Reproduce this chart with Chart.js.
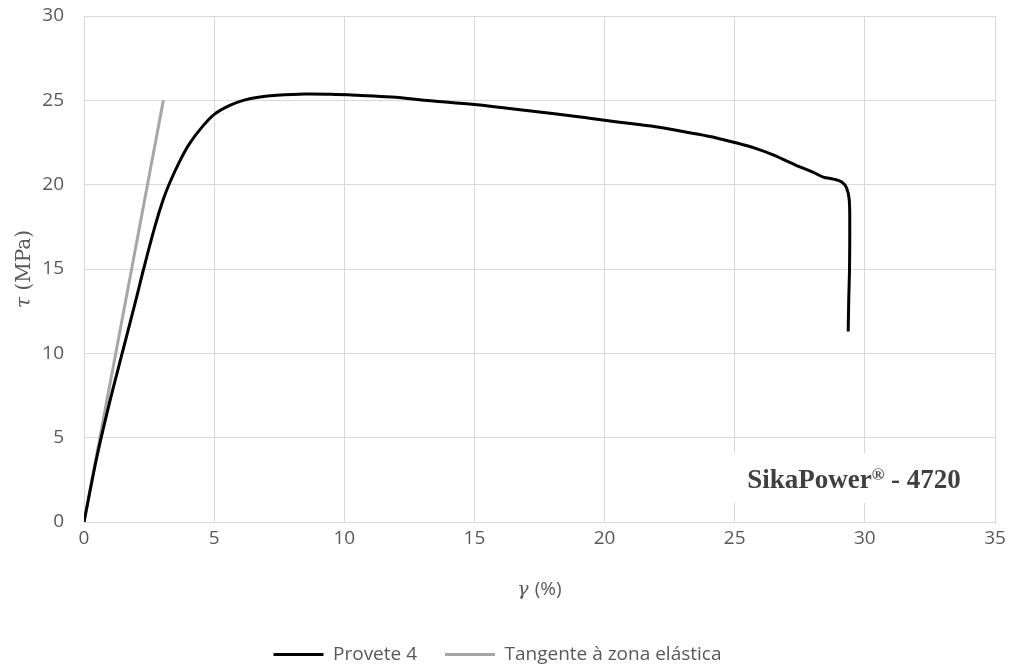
<!DOCTYPE html>
<html>
<head>
<meta charset="utf-8">
<script src="https://cdn.jsdelivr.net/npm/chart.js@4/dist/chart.umd.min.js"></script>
<style>
  html, body { margin: 0; padding: 0; background: #fff; }
  #wrap { width: 1012px; height: 671px; }
</style>
</head>
<body>
<div id="wrap"><canvas id="shearChart"></canvas></div>
<script>
// Shear test, specimen 4: strain gamma (%) vs shear stress tau (MPa)
var strainProvete = [0, 0.5, 1.0, 1.5, 2.0, 2.29, 2.72, 3.04, 3.29, 3.68, 4.06, 4.58, 5.03,
  5.6, 6.12, 6.76, 7.4, 8.5, 9.5, 10.5, 11.8, 13.3, 15.0, 17.0, 19.15, 20.0, 21.0, 22.1, 23.55,
  24.3, 25.0, 25.8, 26.5, 27.4, 28.0, 28.4, 28.8, 29.1, 29.3, 29.4, 29.42, 29.41, 29.38, 29.36];
var stressProvete = [0, 3.9, 7.2, 10.2, 13.2, 15.0, 17.5, 19.1, 20.1, 21.4, 22.45, 23.5, 24.2,
  24.7, 25.0, 25.2, 25.3, 25.38, 25.36, 25.3, 25.2, 24.98, 24.75, 24.4, 24.0, 23.82, 23.62, 23.4, 23.0,
  22.77, 22.5, 22.15, 21.75, 21.12, 20.75, 20.45, 20.33, 20.17, 19.8, 19.1, 17.5, 15.0, 13.1, 11.3];

// tangent to the elastic zone
var strainTangent = [0, 3.05];
var stressTangent = [0, 25];

var seriesNames = ['Provete 4', 'Tangente à zona elástica'];
var seriesColors = ['#000000', '#a6a6a6'];

var xMax = 35, yMax = 30, tickStep = 5;

function toPoints(xs, ys) {
  return xs.map(function (x, i) { return { x: x, y: ys[i] }; });
}

var tickColor = '#595959';
var gridColor = '#d9d9d9';

// axis titles and the material label are drawn by hand (mixed fonts)
var extrasPlugin = {
  id: 'extras',
  beforeDatasetsDraw: function (chart) {
    var ctx = chart.ctx, a = chart.chartArea;
    ctx.save();
    ctx.fillStyle = '#ffffff';
    ctx.fillRect(a.right - 270, a.bottom - 69, 260, 50);
    ctx.restore();
  },
  afterDraw: function (chart) {
    var ctx = chart.ctx, a = chart.chartArea;
    var cx = (a.left + a.right) / 2, cy = (a.top + a.bottom) / 2;
    ctx.save();
    ctx.fillStyle = tickColor;
    ctx.textBaseline = 'middle';
    ctx.textAlign = 'left';

    // y title: tau (MPa)
    ctx.save();
    ctx.translate(25, cy);
    ctx.rotate(-Math.PI / 2);
    var t1 = 'τ ', t2 = '(MPa)';
    ctx.font = 'italic 20px "DejaVu Serif"';
    var w1 = ctx.measureText(t1).width;
    ctx.font = '20px "DejaVu Serif"';
    var w2 = ctx.measureText(t2).width;
    var x0 = -(w1 + w2) / 2;
    ctx.font = 'italic 20px "DejaVu Serif"';
    ctx.fillText(t1, x0, 0);
    ctx.font = '20px "DejaVu Serif"';
    ctx.fillText(t2, x0 + w1, 0);
    ctx.restore();

    // x title: gamma (%)
    var g1 = 'γ ', g2 = '(%)';
    ctx.font = 'italic 19px "DejaVu Serif"';
    var gw1 = ctx.measureText(g1).width;
    ctx.font = '19px "Open Sans"';
    var gw2 = ctx.measureText(g2).width;
    var gx = cx - (gw1 + gw2) / 2;
    ctx.font = 'italic 19px "DejaVu Serif"';
    ctx.fillText(g1, gx, 590);
    ctx.font = '19px "Open Sans"';
    ctx.fillText(g2, gx + gw1, 590);

    // material label
    ctx.fillStyle = '#404040';
    ctx.textBaseline = 'alphabetic';
    var s1 = 'SikaPower', s2 = '®', s3 = ' - 4720';
    ctx.font = 'bold 27px "Liberation Serif"';
    var sw1 = ctx.measureText(s1).width, sw3 = ctx.measureText(s3).width;
    ctx.font = 'bold 17px "Liberation Serif"';
    var sw2 = ctx.measureText(s2).width;
    var sx = a.right - 141 - (sw1 + sw2 + sw3) / 2;
    var base = a.bottom - 34;
    ctx.font = 'bold 27px "Liberation Serif"';
    ctx.fillText(s1, sx, base);
    ctx.font = 'bold 17px "Liberation Serif"';
    ctx.fillText(s2, sx + sw1, base - 8);
    ctx.font = 'bold 27px "Liberation Serif"';
    ctx.fillText(s3, sx + sw1 + sw2, base);
    ctx.restore();
  }
};

var ctx = document.getElementById('shearChart').getContext('2d');
var shearChart = new Chart(ctx, {
  type: 'scatter',
  data: {
    datasets: [{
      label: seriesNames[0],
      data: toPoints(strainProvete, stressProvete),
      showLine: true,
      borderColor: seriesColors[0],
      backgroundColor: seriesColors[0],
      borderWidth: 3,
      pointRadius: 0,
      tension: 0.35
    }, {
      label: seriesNames[1],
      data: toPoints(strainTangent, stressTangent),
      showLine: true,
      borderColor: seriesColors[1],
      backgroundColor: seriesColors[1],
      borderWidth: 3,
      pointRadius: 0
    }]
  },
  options: {
    responsive: true,
    maintainAspectRatio: false,
    animation: false,
    layout: { padding: { left: 0, right: 17, top: 16, bottom: -3 } },
    scales: {
      x: {
        type: 'linear',
        min: 0, max: xMax,
        afterFit: function (scale) { scale.height = 95; },
        grid: { color: gridColor, drawTicks: false },
        border: { color: gridColor },
        ticks: { stepSize: tickStep, padding: 5, color: tickColor, font: { family: 'Open Sans', size: 19 } }
      },
      y: {
        min: 0, max: yMax,
        afterFit: function (scale) { scale.width = 84; },
        // invisible tick marks keep the labels away from the axis
        grid: { color: gridColor, drawTicks: true, tickLength: 16, tickColor: 'rgba(0,0,0,0)' },
        border: { color: gridColor },
        ticks: { stepSize: tickStep, padding: 4, color: tickColor, font: { family: 'Open Sans', size: 19 } }
      }
    },
    plugins: {
      tooltip: { enabled: false },
      legend: {
        position: 'bottom',
        labels: {
          boxWidth: 50,
          boxHeight: 3,
          padding: 28,
          color: tickColor,
          font: { family: 'Open Sans', size: 19 },
          generateLabels: function (chart) {
            return chart.data.datasets.map(function (ds, i) {
              return { text: ds.label, fillStyle: ds.borderColor, strokeStyle: ds.borderColor,
                lineWidth: 0, fontColor: tickColor, datasetIndex: i };
            });
          }
        }
      }
    }
  },
  plugins: [extrasPlugin]
});
</script>
</body>
</html>
